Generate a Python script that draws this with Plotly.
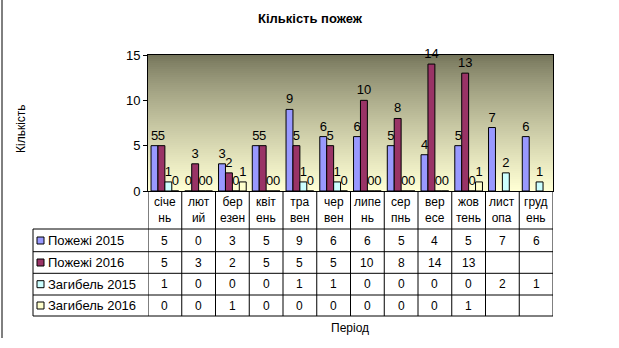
import plotly.graph_objects as go

# ---- data ----
months = ["січе<br>нь", "лют<br>ий", "бер<br>езен", "квіт<br>ень", "тра<br>вен", "чер<br>вен",
          "липе<br>нь", "сер<br>пнь", "вер<br>есе", "жов<br>тень", "лист<br>опа", "груд<br>ень"]
series_names = ["Пожежі 2015", "Пожежі 2016", "Загибель 2015", "Загибель 2016"]
fires_2015 = [5, 0, 3, 5, 9, 6, 6, 5, 4, 5, 7, 6]
fires_2016 = [5, 3, 2, 5, 5, 5, 10, 8, 14, 13, None, None]
deaths_2015 = [1, 0, 0, 0, 1, 1, 0, 0, 0, 0, 2, 1]
deaths_2016 = [0, 0, 1, 0, 0, 0, 0, 0, 0, 1, None, None]
y_ticks = [0, 5, 10, 15]

series_values = [fires_2015, fires_2016, deaths_2015, deaths_2016]
colors = ["#9999FF", "#993366", "#CCFFFF", "#FFFFCC"]

FONT = "Liberation Sans, Arial, sans-serif"
W, H = 619, 348
L, R, T, B = 148, 66, 55, 157
PW = W - L - R
PH = H - T - B


def px_x(px):
    return (px - L) / PW


def px_y(py):
    return (H - B - py) / PH


fig = go.Figure()
for name, vals, col in zip(series_names, series_values, colors):
    fig.add_trace(go.Bar(
        x=list(range(len(months))), y=vals, name=name,
        marker=dict(color=col, line=dict(color="black", width=1)),
        text=[("" if v is None else str(v)) for v in vals],
        textposition="outside", constraintext="none", textangle=0,
        outsidetextfont=dict(family=FONT, size=13, color="black"),
        cliponaxis=False, showlegend=False,
    ))

shapes = []
# gradient background of plot area
N = 68
top_c = (116, 116, 90)
bot_c = (255, 255, 212)
for k in range(N):
    f = k / (N - 1)
    g = f ** 0.8
    c = tuple(int(round(top_c[j] + (bot_c[j] - top_c[j]) * g)) for j in range(3))
    shapes.append(dict(type="rect", xref="x domain", yref="y domain",
                       x0=0, x1=1, y0=1 - (k + 1) / N, y1=1 - k / N,
                       fillcolor="rgb(%d,%d,%d)" % c, line=dict(width=0), layer="below"))

# table lines
row_lines_px = [229, 251.7, 273.3, 295, 316]
for yp in row_lines_px:
    shapes.append(dict(type="line", xref="paper", yref="paper",
                       x0=px_x(33), x1=1, y0=px_y(yp), y1=px_y(yp),
                       line=dict(color="black", width=1)))
shapes.append(dict(type="line", xref="paper", yref="paper",
                   x0=px_x(33), x1=px_x(33), y0=px_y(229), y1=px_y(316),
                   line=dict(color="black", width=1)))
for i in range(len(months) + 1):
    shapes.append(dict(type="line", xref="x", yref="paper",
                       x0=i - 0.5, x1=i - 0.5, y0=0, y1=px_y(316),
                       line=dict(color="black", width=1)))
# outer left border of chart area
shapes.append(dict(type="line", xref="paper", yref="paper",
                   x0=px_x(2), x1=px_x(2), y0=px_y(0), y1=px_y(338),
                   line=dict(color="black", width=1)))

annotations = []
# header row (month labels)
for i, m in enumerate(months):
    annotations.append(dict(x=i, y=px_y(210), xref="x", yref="paper", text=m,
                            showarrow=False, font=dict(family=FONT, size=12, color="black"),
                            xanchor="center", yanchor="middle"))
row_centers = [240.5, 262.5, 284.2, 305.5]
for r, (name, vals, col) in enumerate(zip(series_names, series_values, colors)):
    yc = row_centers[r]
    shapes.append(dict(type="rect", xref="paper", yref="paper",
                       x0=px_x(37), x1=px_x(44), y0=px_y(yc + 3.5), y1=px_y(yc - 3.5),
                       fillcolor=col, line=dict(color="black", width=1)))
    annotations.append(dict(x=px_x(46), y=px_y(yc), xref="paper", yref="paper", text=name,
                            showarrow=False, font=dict(family=FONT, size=13, color="black"),
                            xanchor="left", yanchor="middle"))
    for i, v in enumerate(vals):
        if v is None:
            continue
        annotations.append(dict(x=i, y=px_y(yc), xref="x", yref="paper", text=str(v),
                                showarrow=False, font=dict(family=FONT, size=12, color="black"),
                                xanchor="center", yanchor="middle"))

annotations.append(dict(x=px_x(350), y=px_y(328), xref="paper", yref="paper", text="Період",
                        showarrow=False, font=dict(family=FONT, size=12, color="black"),
                        xanchor="center", yanchor="middle"))
annotations.append(dict(x=px_x(21), y=px_y(128), xref="paper", yref="paper", text="Кількість",
                        showarrow=False, textangle=-90, font=dict(family=FONT, size=12, color="black"),
                        xanchor="center", yanchor="middle"))

fig.update_layout(
    width=W, height=H,
    margin=dict(l=L, r=R, t=T, b=B, pad=0),
    paper_bgcolor="white", plot_bgcolor="white",
    barmode="group", bargap=0.18, bargroupgap=0,
    title=dict(text="<b>Кількість пожеж</b>", x=310 / W, y=1 - 18 / H,
               xanchor="center", yanchor="middle",
               font=dict(family=FONT, size=13, color="black")),
    xaxis=dict(range=[-0.5, len(months) - 0.5], showticklabels=False, ticks="",
               showgrid=False, zeroline=False, showline=True, linecolor="black",
               linewidth=1, mirror=True),
    yaxis=dict(range=[0, 15], tickvals=y_ticks, ticks="outside", ticklen=4,
               tickcolor="black", showgrid=False, zeroline=False, showline=True,
               linecolor="black", linewidth=1, mirror=True,
               tickfont=dict(family=FONT, size=13, color="black")),
    shapes=shapes, annotations=annotations,
    font=dict(family=FONT, color="black"),
)

fig.write_html("out.html")
